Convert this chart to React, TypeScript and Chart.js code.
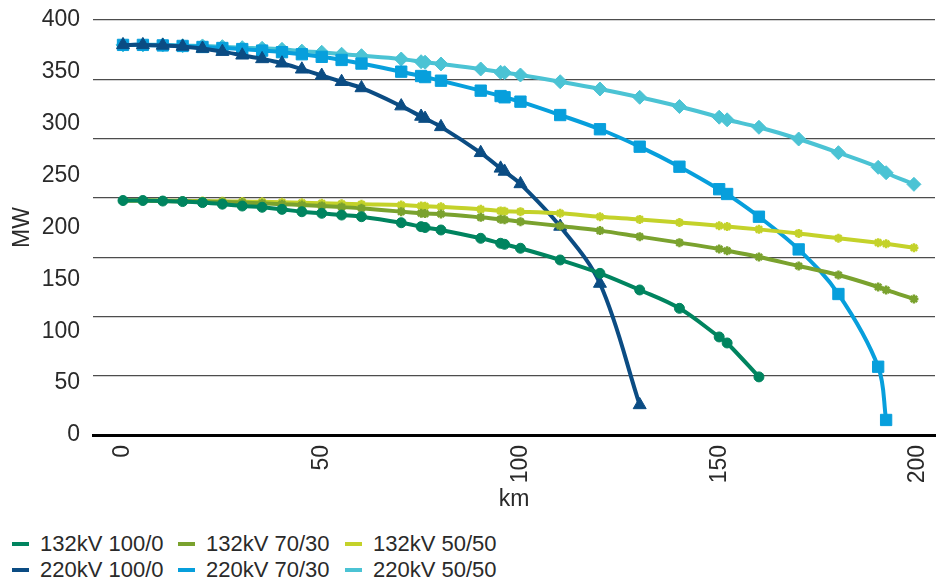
import React, { useEffect, useRef } from "react";
import { Chart, registerables } from "chart.js";

Chart.register(...registerables);

const km = [0, 5, 10, 15, 20, 25, 30, 35, 40, 45, 50, 55, 60, 70, 75, 76, 80, 90, 95, 96, 100, 110, 120, 130, 140, 150, 152, 160, 170, 180, 190, 192, 199];

const kv132_100_0 = [226, 226, 225.5, 225, 224, 222.5, 220.7, 219.5, 217.5, 215.2, 213.7, 212, 210.4, 204.6, 200.8, 200, 197.6, 189.6, 184.8, 183.8, 180, 168.7, 155.8, 139.8, 122.1, 94.5, 88.7, 56];
const kv132_70_30 = [226, 226, 225.5, 225.3, 225, 224.5, 224, 223.3, 222.5, 221.7, 220.8, 219.7, 218.5, 215.3, 213.7, 213.4, 213, 209.8, 207.9, 207.5, 205.6, 201.4, 197, 191.2, 185.4, 179.3, 177.6, 171.6, 162.9, 154.2, 142.7, 139.8, 131.1];
const kv132_50_50 = [226, 226, 226, 225.7, 225.5, 225.2, 225, 224.7, 224.3, 223.8, 223.3, 222.8, 222.3, 221.7, 220.7, 220.5, 220, 217.5, 216, 215.6, 215.3, 213.7, 210.4, 207.8, 204.8, 201.7, 200.9, 198.2, 194.3, 189.6, 185.4, 184.3, 180.5];
const kv220_100_0 = [376, 376, 375.5, 374.5, 372.5, 369.5, 366, 362.5, 358.3, 352.5, 346.5, 340.5, 334.5, 317, 307, 305, 297, 272, 257, 254, 242, 201, 146, 29];
const kv220_70_30 = [376, 376, 375.5, 375, 374, 373, 372, 370.5, 369, 367, 364.5, 361.5, 358, 350.2, 346, 345, 341.5, 331.9, 326.7, 325.5, 321.3, 308.4, 294.7, 277.9, 258.6, 236.9, 232.3, 210.4, 178.9, 135.9, 65.8, 14.5];
const kv220_50_50 = [376, 376, 376, 375.2, 375, 374.3, 373.3, 372.7, 371.7, 370, 368.9, 367, 365.6, 362.4, 359.8, 359.3, 357.6, 352.8, 349.6, 349.2, 347, 340.5, 333.5, 325.5, 316.6, 306.3, 303.8, 296.6, 285.3, 272.1, 258, 252.8, 241.6];

const xTicks = [0, 50, 100, 150, 200];

const seriesNames = ["132kV 100/0", "132kV 70/30", "132kV 50/50", "220kV 100/0", "220kV 70/30", "220kV 50/50"];
const seriesValues = [kv132_100_0, kv132_70_30, kv132_50_50, kv220_100_0, kv220_70_30, kv220_50_50];
const seriesColors = ["#00845F", "#7AA22E", "#C4D22A", "#0B4C83", "#079FDC", "#4BC3D4"];
const seriesPoints = ["circle", "star", "star", "triangle", "rect", "rectRot"];
const seriesRadius = [5, 4.5, 4.5, 7.5, 8, 7];

const FONT = "'Liberation Sans', Arial, Helvetica, sans-serif";
const TEXT = "#2a2a2a";
const AXIS_SIZE = 23;
const PLOT_RIGHT_GAP = 4;

const stretchRight = {
  id: "stretchRight",
  afterLayout(chart: any) {
    const target = chart.width - PLOT_RIGHT_GAP;
    const ca = chart.chartArea;
    if (ca.right >= target) return;
    ca.right = target;
    ca.width = ca.right - ca.left;
    const x = chart.scales.x;
    x.right = target;
    x.width = x.right - x.left;
    x.configure();
  },
};

export default function App() {
  const ref = useRef<HTMLCanvasElement | null>(null);

  useEffect(() => {
    if (!ref.current) return;
    const datasets = seriesNames.map((name, i) => ({
      label: name,
      data: seriesValues[i].map((v, j) => ({ x: km[j], y: v })),
      borderColor: seriesColors[i],
      backgroundColor: seriesColors[i],
      pointBackgroundColor: seriesColors[i],
      pointBorderColor: seriesColors[i],
      pointStyle: seriesPoints[i] as any,
      pointRadius: seriesRadius[i],
      pointBorderWidth: seriesPoints[i] === "star" ? 2.5 : 1,
      borderWidth: 4,
      tension: 0.35,
      fill: false,
    }));

    const chart = new Chart(ref.current, {
      type: "line",
      data: { datasets },
      plugins: [stretchRight],
      options: {
        animation: false,
        responsive: false,
        devicePixelRatio: 1,
        layout: { padding: { top: 20, left: 5, right: PLOT_RIGHT_GAP, bottom: 5 } },
        plugins: { legend: { display: false }, tooltip: { enabled: false } },
        scales: {
          x: {
            type: "linear",
            min: -7.55,
            max: 204.3,
            afterBuildTicks: (axis: any) => {
              axis.ticks = xTicks.map((v) => ({ value: v }));
            },
            afterFit: (axis: any) => {
              axis.paddingLeft = 0;
              axis.paddingRight = 0;
              axis.height = 80;
            },
            ticks: {
              minRotation: 90,
              maxRotation: 90,
              padding: 10,
              color: TEXT,
              font: { family: FONT, size: AXIS_SIZE },
            },
            grid: { display: false, drawTicks: false },
            border: { display: true, color: "#000", width: 3 },
            title: {
              display: true,
              text: "km",
              color: TEXT,
              font: { family: FONT, size: AXIS_SIZE },
              padding: { top: 0, bottom: 2 },
            },
          },
          y: {
            type: "linear",
            position: "left",
            min: 0,
            max: 400,
            afterFit: (axis: any) => {
              axis.paddingTop = 0;
              axis.paddingBottom = 0;
              axis.width = 88;
            },
            ticks: {
              stepSize: 50,
              padding: 13,
              color: TEXT,
              font: { family: FONT, size: AXIS_SIZE },
            },
            grid: { display: false, drawTicks: false },
            border: { display: false },
            title: {
              display: true,
              text: "MW",
              color: TEXT,
              font: { family: FONT, size: AXIS_SIZE },
              padding: { top: 4, bottom: 5 },
            },
          },
          g: {
            type: "linear",
            position: "left",
            min: 0,
            max: 7,
            afterFit: (axis: any) => {
              axis.width = 0;
              axis.paddingTop = 0;
              axis.paddingBottom = 0;
            },
            ticks: { display: false, stepSize: 1 },
            grid: {
              drawTicks: false,
              color: (ctx: any) => (ctx.tick && ctx.tick.value === 0 ? "rgba(0,0,0,0)" : "#4d4d4d"),
              lineWidth: 1.2,
            },
            border: { display: false },
          },
        },
      },
    });
    return () => chart.destroy();
  }, []);

  return (
    <div style={{ position: "fixed", left: 0, top: 0, width: 939, height: 584, background: "#fff" }}>
      <canvas ref={ref} width={939} height={520} style={{ position: "absolute", left: 0, top: 0 }} />
      <div
        style={{
          position: "absolute",
          left: 12,
          top: 531,
          fontFamily: FONT,
          fontSize: 22,
          color: TEXT,
          lineHeight: "26px",
          display: "grid",
          gridTemplateColumns: "166px 167px 170px",
        }}
      >
        {seriesNames.map((name, i) => (
          <div key={name} style={{ display: "flex", alignItems: "center", whiteSpace: "nowrap" }}>
            <span
              style={{
                display: "inline-block",
                width: 17,
                height: 4,
                background: seriesColors[i],
                marginRight: 11,
              }}
            />
            <span>{name}</span>
          </div>
        ))}
      </div>
    </div>
  );
}
